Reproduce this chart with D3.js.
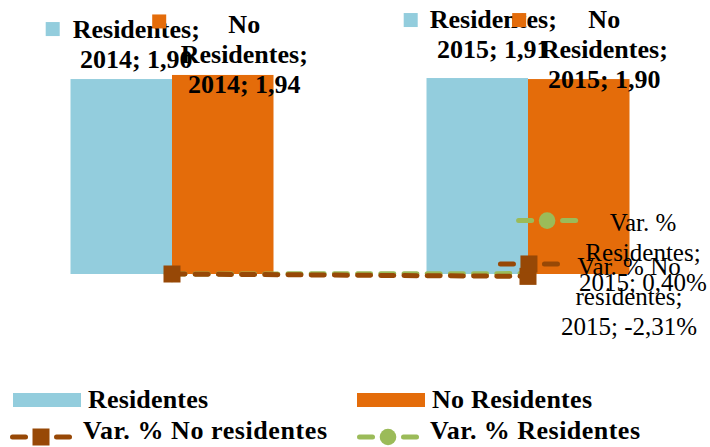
<!DOCTYPE html>
<html>
<head>
<meta charset="utf-8">
<script src="https://cdn.jsdelivr.net/npm/d3@7"></script>
<style>
  html, body { margin: 0; padding: 0; background: #fff; }
  svg { display: block; }
  text { font-family: "Liberation Serif", "Times New Roman", serif; fill: #000; }
</style>
</head>
<body>
<svg id="chart" width="710" height="447"></svg>
<script>
// ---------- data ----------
const years = ["2014", "2015"];
const barSeries = ["Residentes", "No Residentes"];
const residentes = [1.90, 1.91];
const noResidentes = [1.94, 1.90];
const lineSeries = ["Var. % No residentes", "Var. % Residentes"];
const varNoResidentes = [0, -0.0231];
const varResidentes = [0, 0.0040];
const yDomain = [0, 2];

// ---------- styles ----------
const colors = {
  "Residentes": "#93CDDD",
  "No Residentes": "#E46C0A",
  "Var. % No residentes": "#974806",
  "Var. % Residentes": "#9BBB59"
};

const locale = d3.formatLocale({decimal: ",", thousands: ".", grouping: [3], currency: ["", "€"], minus: "-"});
const fmtNum = locale.format(".2f");
const fmtPct = locale.format(".2%");

const svg = d3.select("#chart");
svg.append("rect").attr("width", 710).attr("height", 447).attr("fill", "#fff");

// ---------- scales ----------
const x0 = d3.scaleBand().domain(years).range([-6, 706]).padding(0);
const groupW = x0.bandwidth() * 203 / 356;
const x1 = d3.scaleBand().domain(barSeries).range([0, groupW]).padding(0);
const groupOffset = (x0.bandwidth() - groupW) / 2;
const y = d3.scaleLinear().domain(yDomain).range([274, 68.8]);

const barData = [];
years.forEach((yr, i) => {
  barData.push({year: yr, series: "Residentes", value: residentes[i]});
  barData.push({year: yr, series: "No Residentes", value: noResidentes[i]});
});

// ---------- bars ----------
svg.append("g").selectAll("rect").data(barData).join("rect")
  .attr("x", d => x0(d.year) + groupOffset + x1(d.series))
  .attr("y", d => y(d.value))
  .attr("width", x1.bandwidth())
  .attr("height", d => y(0) - y(d.value))
  .attr("fill", d => colors[d.series]);

// ---------- lines ----------
const cx = yr => x0(yr) + x0.bandwidth() / 2;
const lineData = [
  {series: "Var. % Residentes", values: varResidentes, marker: "circle"},
  {series: "Var. % No residentes", values: varNoResidentes, marker: "square"}
];
const lineGen = d3.line().x(d => cx(d.year)).y(d => y(d.value));

function drawMarker(g, type, px, py, color) {
  if (type === "circle") {
    g.append("circle").attr("cx", px).attr("cy", py).attr("r", 8.3).attr("fill", color);
  } else {
    g.append("rect").attr("x", px - 8.5).attr("y", py - 8.5).attr("width", 17).attr("height", 17).attr("fill", color);
  }
}

lineData.forEach(ls => {
  const pts = years.map((yr, i) => ({year: yr, value: ls.values[i]}));
  const g = svg.append("g");
  g.append("path").attr("d", lineGen(pts))
    .attr("fill", "none").attr("stroke", colors[ls.series])
    .attr("stroke-width", 5).attr("stroke-linecap", "round")
    .attr("stroke-dasharray", "13,10.2");
  pts.forEach(p => drawMarker(g, ls.marker, cx(p.year), y(p.value), colors[ls.series]));
});

// ---------- label helpers ----------
function wrap(name, maxChars) {
  const words = name.split(" ");
  const lines = [];
  let cur = "";
  words.forEach(w => {
    const cand = cur ? cur + " " + w : w;
    if (cand.length <= maxChars || !cur) cur = cand;
    else { lines.push(cur); cur = w; }
  });
  lines.push(cur);
  return lines;
}

function lineKey(g, kx, ky, series, marker) {
  const c = colors[series];
  [[-28.5, -15.5], [15.5, 28.5]].forEach(([a, b]) => {
    g.append("line").attr("x1", kx + a).attr("x2", kx + b).attr("y1", ky).attr("y2", ky)
      .attr("stroke", c).attr("stroke-width", 5).attr("stroke-linecap", "round");
  });
  drawMarker(g, marker, kx, ky, c);
}

const labelLayer = svg.append("g");

function drawLabel(lines, tx, ty, bold, size, keyFn) {
  const g = labelLayer.append("g");
  const t = g.append("text")
    .attr("text-anchor", "middle")
    .attr("font-size", size)
    .attr("font-weight", bold ? "bold" : "normal");
  lines.forEach((ln, i) => {
    t.append("tspan").attr("x", tx).attr("y", ty + i * 30).text(ln);
  });
  const wMax = d3.max(t.selectAll("tspan").nodes(), n => n.getComputedTextLength());
  keyFn(g, tx - wMax / 2, ty);
}

// bar labels: [dx of text centre from bar centre, dy of first baseline from bar top, key gap, key dy]
const barLabelOffsets = {
  "2014|Residentes": [15, -41, 13, -9],
  "2014|No Residentes": [21.5, -42, 14.5, -11.5],
  "2015|Residentes": [16, -50, 12, -8],
  "2015|No Residentes": [25.5, -51, 14.5, -8]
};
barData.forEach(d => {
  const bx = x0(d.year) + groupOffset + x1(d.series) + x1.bandwidth() / 2;
  const by = y(d.value);
  const o = barLabelOffsets[d.year + "|" + d.series];
  const lines = wrap(d.series + ";", 10).concat([d.year + "; " + fmtNum(d.value)]);
  drawLabel(lines, bx + o[0], by + o[1], true, 26, (g, left, base) => {
    g.insert("rect", "text").attr("x", left - o[2] - 14).attr("y", base + o[3] - 7)
      .attr("width", 14).attr("height", 14).attr("fill", colors[d.series]);
  });
});

// line labels (2015 only)
const lineLabelOffsets = {
  "Var. % Residentes": [115, -43, -10],
  "Var. % No residentes": [101, -1.4, -11]
};
lineData.forEach(ls => {
  const i = 1;
  const px = cx(years[i]);
  const py = y(ls.values[i]);
  const o = lineLabelOffsets[ls.series];
  const lines = wrap(ls.series + ";", 10).concat([years[i] + "; " + fmtPct(ls.values[i])]);
  drawLabel(lines, px + o[0], py + o[1], false, 25, (g, left, base) => {
    const kg = g.insert("g", "text");
    lineKey(kg, left - 32, base + o[2], ls.series, ls.marker);
  });
});

// ---------- legend ----------
const legend = svg.append("g").attr("font-size", 26).attr("font-weight", "bold");
const legendItems = [
  {series: "Residentes", type: "bar", x: 13, y: 400, w: 120},
  {series: "No Residentes", type: "bar", x: 357, y: 400, w: 160},
  {series: "Var. % No residentes", type: "line", marker: "square", x: 8, y: 437, w: 244},
  {series: "Var. % Residentes", type: "line", marker: "circle", x: 355, y: 437, w: 210}
];
legendItems.forEach(it => {
  const g = legend.append("g");
  if (it.type === "bar") {
    g.append("rect").attr("x", it.x).attr("y", it.y - 7).attr("width", 68).attr("height", 14)
      .attr("fill", colors[it.series]);
  } else {
    lineKey(g, it.x + 33, it.y, it.series, it.marker);
  }
  g.append("text").attr("x", it.x + 75).attr("y", it.y + (it.type === "bar" ? 8 : 2))
    .attr("textLength", it.w).attr("lengthAdjust", "spacing")
    .text(it.series);
});
</script>
</body>
</html>
